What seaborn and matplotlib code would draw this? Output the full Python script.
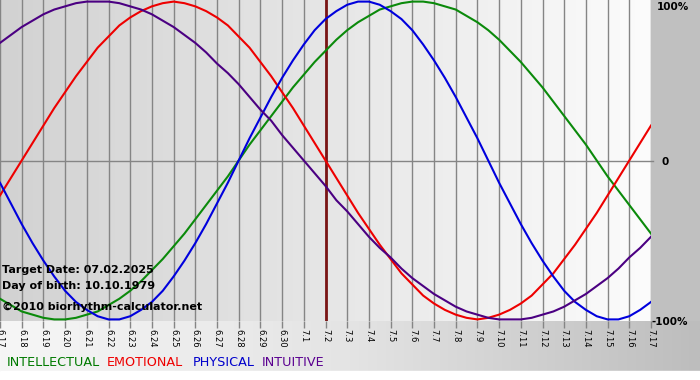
import numpy as np
import pandas as pd
import matplotlib
matplotlib.use("Agg")
import matplotlib.pyplot as plt
from matplotlib.colors import LinearSegmentedColormap
import seaborn as sns

dates = ["6.17", "6.18", "6.19", "6.20", "6.21", "6.22", "6.23", "6.24", "6.25", "6.26",
         "6.27", "6.28", "6.29", "6.30", "7.1", "7.2", "7.3", "7.4", "7.5", "7.6",
         "7.7", "7.8", "7.9", "7.10", "7.11", "7.12", "7.13", "7.14", "7.15", "7.16", "7.17"]
physical = [-14, -27, -40, -52, -63, -73, -82, -89, -94, -98,
            -100, -100, -98, -94, -89, -82, -73, -63, -52, -40,
            -27, -14, 0, 14, 27, 40, 52, 63, 73, 82,
            89, 94, 98, 100, 100, 98, 94, 89, 82, 73,
            63, 52, 40, 27, 14, 0, -14, -27, -40, -52,
            -63, -73, -82, -89, -94, -98, -100, -100, -98, -94,
            -89]
emotional = [-22, -11, 0, 11, 22, 33, 43, 53, 62, 71,
             78, 85, 90, 94, 97, 99, 100, 99, 97, 94,
             90, 85, 78, 71, 62, 53, 43, 33, 22, 11,
             0, -11, -22, -33, -43, -53, -62, -71, -78, -85,
             -90, -94, -97, -99, -100, -99, -97, -94, -90, -85,
             -78, -71, -62, -53, -43, -33, -22, -11, 0, 11,
             22]
intellectual = [-87, -91, -95, -97, -99, -100, -100, -99, -97, -95,
                -91, -87, -82, -76, -69, -62, -54, -46, -37, -28,
                -19, -10, 0, 10, 19, 28, 37, 46, 54, 62,
                69, 76, 82, 87, 91, 95, 97, 99, 100, 100,
                99, 97, 95, 91, 87, 82, 76, 69, 62, 54,
                46, 37, 28, 19, 10, 0, -10, -19, -28, -37,
                -46]
intuitive = [74, 79, 84, 88, 92, 95, 97, 99, 100, 100,
             100, 99, 97, 95, 92, 88, 84, 79, 74, 68,
             61, 55, 48, 40, 32, 25, 16, 8, 0, -8,
             -16, -25, -32, -40, -48, -55, -61, -68, -74, -79,
             -84, -88, -92, -95, -97, -99, -100, -100, -100, -99,
             -97, -95, -92, -88, -84, -79, -74, -68, -61, -55,
             -48]
target_label = "7.2"
series_names = ["INTELLECTUAL", "EMOTIONAL", "PHYSICAL", "INTUITIVE"]
colors = {"INTELLECTUAL": "#0b8a0b", "EMOTIONAL": "#ee0000",
          "PHYSICAL": "#0000dd", "INTUITIVE": "#4b0082"}
legend_colors = {"INTELLECTUAL": "#007a00", "EMOTIONAL": "#ee0000",
                 "PHYSICAL": "#0000cc", "INTUITIVE": "#5a0090"}

day_pos = np.arange(len(physical)) / 2.0
df = pd.concat([
    pd.DataFrame({"day": day_pos, "value": intellectual, "series": "INTELLECTUAL"}),
    pd.DataFrame({"day": day_pos, "value": emotional, "series": "EMOTIONAL"}),
    pd.DataFrame({"day": day_pos, "value": physical, "series": "PHYSICAL"}),
    pd.DataFrame({"day": day_pos, "value": intuitive, "series": "INTUITIVE"}),
])

W, H = 700, 380
fig = plt.figure(figsize=(W / 100, H / 100), dpi=100)
fig.patch.set_facecolor("#c0c0c0")

# background axes for figure-level gradients
bg = fig.add_axes([0, 0, 1, 1], zorder=-10)
bg.set_xlim(0, W)
bg.set_ylim(H, 0)
bg.axis("off")
grad_bottom = LinearSegmentedColormap.from_list("gb", ["#f6f6f6", "#e4e4e4", "#bdbdbd"])
bg.imshow(np.linspace(0, 1, 256)[None, :], cmap=grad_bottom, aspect="auto",
          extent=[0, W, 371, 321], zorder=0)
bg.add_patch(plt.Rectangle((0, 371), W, 9, color="white", zorder=1))

# plot axes
px0, px1, py0, py1 = 0, 651, 0, 321
ax = fig.add_axes([px0 / W, 1 - py1 / H, (px1 - px0) / W, (py1 - py0) / H])
ax.set_facecolor("none")
grad_plot = LinearSegmentedColormap.from_list("gp", ["#d2d2d2", "#e6e6e6", "#fcfcfc"])
n = len(dates) - 1
ax.imshow(np.linspace(0, 1, 256)[None, :], cmap=grad_plot, aspect="auto",
          extent=[0, n, -101, 101], zorder=0)

day_idx = list(range(len(dates)))
for i in day_idx:
    ax.axvline(i, color="#858585", lw=1.0, zorder=1)
ax.plot([0, n + 0.1], [0, 0], color="#858585", lw=1.0, zorder=1, clip_on=False)

t = dates.index(target_label)
ax.axvline(t, color="#7a1515", lw=2.0, zorder=2)

sns.lineplot(data=df, x="day", y="value", hue="series", hue_order=series_names,
             palette=colors, linewidth=1.5, legend=False, ax=ax, zorder=3)

ax.set_xlim(0, n)
ax.set_ylim(-101, 101)
for s in ax.spines.values():
    s.set_visible(False)
ax.set_xticks(day_idx)
ax.set_xticklabels(dates, rotation=-90, fontsize=6, family="DejaVu Sans")
ax.tick_params(axis="x", length=5, width=1, color="#858585", pad=1)
ax.set_yticks([])
ax.set_xlabel("")
ax.set_ylabel("")

# right-side labels
fig.text(657 / W, 1 - 7 / H, "100%", fontsize=7.5, weight="bold", va="center", ha="left")
fig.text(661 / W, 1 - 162 / H, "0", fontsize=7.5, weight="bold", va="center", ha="left")
fig.text(652 / W, 1 - 322 / H, "-100%", fontsize=7.5, weight="bold", va="center", ha="left")

# info texts
fig.text(2 / W, 1 - 270 / H, "Target Date: 07.02.2025", fontsize=8, weight="bold",
         va="center", ha="left")
fig.text(2 / W, 1 - 286 / H, "Day of birth: 10.10.1979", fontsize=8, weight="bold",
         va="center", ha="left")
fig.text(2 / W, 1 - 307 / H, "\u00a92010 biorhythm-calculator.net", fontsize=8,
         weight="bold", va="center", ha="left")

# legend texts
leg_x = [7, 107, 193, 262]
for name, x in zip(series_names, leg_x):
    fig.text(x / W, 1 - 362 / H, name, fontsize=9.2, color=legend_colors[name],
             va="center", ha="left")

fig.savefig("out.png", dpi=100)
